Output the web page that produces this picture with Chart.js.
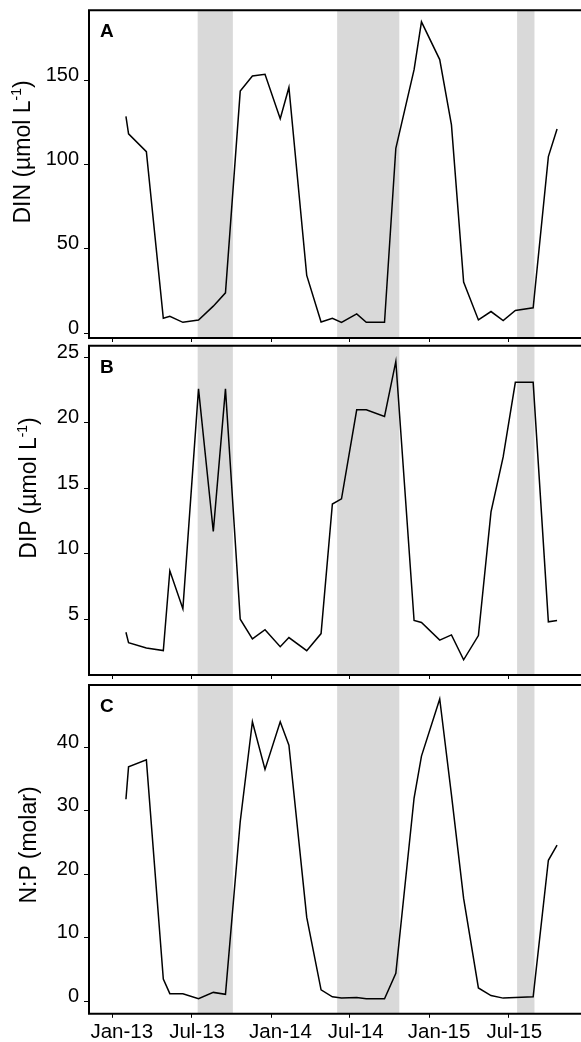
<!DOCTYPE html>
<html>
<head>
<meta charset="utf-8">
<script src="https://cdn.jsdelivr.net/npm/chart.js@4.4.1/dist/chart.umd.min.js"></script>
<style>
  html, body { margin: 0; padding: 0; background: #fff; overflow: hidden; }
  #fig { position: relative; width: 581px; height: 1042px; overflow: hidden; background: #fff; }
  #fig canvas { position: absolute; left: 0; }
  .ytitle {
    position: absolute;
    font-family: "Liberation Sans", Arial, sans-serif;
    font-size: 23px;
    line-height: 1;
    color: #000;
    white-space: nowrap;
    transform: translate(-50%, -50%) rotate(-90deg);
  }
  .ytitle sup { font-size: 0.6em; line-height: 0; vertical-align: 0.6em; }
</style>
</head>
<body>
<div id="fig">
  <canvas id="panelA" width="620" height="346" style="top:0px"></canvas>
  <canvas id="panelB" width="620" height="342" style="top:340px"></canvas>
  <canvas id="panelC" width="620" height="362" style="top:680px"></canvas>
  <div class="ytitle" style="left:22px; top:152px">DIN (µmol L<sup>-1</sup>)</div>
  <div class="ytitle" style="left:28px; top:488px">DIP (µmol L<sup>-1</sup>)</div>
  <div class="ytitle" style="left:28px; top:845px">N:P (molar)</div>
</div>
<script>
// Sampling dates and measured concentrations
const sampleDates = [
  "2013-02-01","2013-02-07","2013-03-20","2013-04-28","2013-05-13","2013-06-12",
  "2013-07-18","2013-08-21","2013-09-18","2013-10-22","2013-11-19","2013-12-18",
  "2014-01-22","2014-02-11","2014-03-24","2014-04-26","2014-05-22","2014-06-12",
  "2014-07-17","2014-08-08","2014-09-19","2014-10-15","2014-11-26","2014-12-13",
  "2015-01-24","2015-02-20","2015-03-20","2015-04-23","2015-05-22","2015-06-19",
  "2015-07-17","2015-08-27","2015-10-01","2015-10-21"
];
const dinValues = [
  128.6, 118.3, 107.7, 8.9, 10.1, 6.5,
  7.9, 16.1, 24.0, 143.6, 152.6, 153.6,
  127.2, 145.8, 34.3, 6.7, 8.9, 6.5,
  11.5, 6.5, 6.5, 109.7, 156.3, 184.7,
  162.3, 123.6, 30.4, 7.9, 12.9, 7.5,
  13.5, 15.1, 104.8, 121.2
];
const dipValues = [
  4.0, 3.2, 2.8, 2.6, 8.7, 5.8,
  22.6, 11.7, 22.6, 5.0, 3.5, 4.2,
  2.9, 3.6, 2.6, 3.9, 13.8, 14.2,
  21.0, 21.0, 20.5, 24.7, 4.9, 4.75,
  3.4, 3.8, 1.9, 3.75, 13.2, 17.4,
  23.1, 23.1, 4.8, 4.9
];
const npValues = [
  31.8, 36.9, 38.0, 3.5, 1.2, 1.2,
  0.4, 1.4, 1.1, 28.3, 44.0, 36.5,
  44.0, 40.3, 13.2, 1.8, 0.7, 0.5,
  0.6, 0.4, 0.4, 4.4, 32.0, 38.6,
  47.6, 32.5, 16.2, 2.1, 0.9, 0.5,
  0.6, 0.7, 22.2, 24.6
];

// Shaded periods (start, end)
const shadedPeriods = [
  ["2013-07-16", "2013-10-05"],
  ["2014-06-02", "2014-10-23"],
  ["2015-07-21", "2015-08-30"]
];

// Axis ticks
const monthTicks = ["2013-01-01","2013-07-01","2014-01-01","2014-07-01","2015-01-01","2015-07-01"];
const monthTickLabels = ["Jan-13","Jul-13","Jan-14","Jul-14","Jan-15","Jul-15"];
const dinTicks = [0, 50, 100, 150];
const dipTicks = [5, 10, 15, 20, 25];
const npTicks = [0, 10, 20, 30, 40];
const xRange = ["2012-11-08", "2016-02-06"];

const ORIGIN = Date.UTC(2013, 0, 1);
function dayNumber(s) {
  const [y, m, d] = s.split("-").map(Number);
  return (Date.UTC(y, m - 1, d) - ORIGIN) / 86400000;
}

Chart.defaults.font.family = '"Liberation Sans", Arial, sans-serif';
Chart.defaults.color = '#000';

const shadePlugin = {
  id: 'shade',
  beforeDatasetsDraw(chart) {
    const { ctx, chartArea, scales } = chart;
    ctx.save();
    ctx.fillStyle = '#d9d9d9';
    shadedPeriods.forEach(([a, b]) => {
      const x0 = scales.x.getPixelForValue(dayNumber(a));
      const x1 = scales.x.getPixelForValue(dayNumber(b));
      ctx.fillRect(x0, chartArea.top, x1 - x0, chartArea.bottom - chartArea.top);
    });
    ctx.restore();
  }
};

// Panel box (open on the right, where the figure is cropped) and panel letter
const framePlugin = {
  id: 'frame',
  afterDatasetsDraw(chart, args, opts) {
    const { ctx, chartArea } = chart;
    const { left, right, top, bottom } = chartArea;
    ctx.save();
    ctx.strokeStyle = '#000';
    ctx.lineWidth = 2;
    ctx.beginPath();
    ctx.moveTo(right + 2, top);
    ctx.lineTo(left, top);
    ctx.lineTo(left, bottom);
    ctx.lineTo(right + 2, bottom);
    ctx.stroke();
    ctx.fillStyle = '#000';
    ctx.font = 'bold 19px "Liberation Sans", Arial, sans-serif';
    ctx.textBaseline = 'alphabetic';
    ctx.textAlign = 'left';
    ctx.fillText(opts.letter, left + 11, top + 27);
    ctx.restore();
  }
};

function makePanel(id, letter, values, yTicks, yMin, yMax, padTop, xAxisHeight, showXLabels) {
  const points = sampleDates.map((d, i) => ({ x: dayNumber(d), y: values[i] }));
  return new Chart(document.getElementById(id), {
    type: 'line',
    data: {
      datasets: [{
        data: points,
        borderColor: '#000',
        borderWidth: 1.5,
        pointRadius: 0,
        tension: 0,
        fill: false
      }]
    },
    options: {
      responsive: false,
      animation: false,
      devicePixelRatio: 1,
      layout: { padding: { top: padTop, right: 16, bottom: 0, left: 0 } },
      plugins: {
        legend: { display: false },
        tooltip: { enabled: false },
        frame: { letter: letter }
      },
      scales: {
        x: {
          type: 'linear',
          min: dayNumber(xRange[0]),
          max: dayNumber(xRange[1]),
          border: { display: false },
          grid: { display: true, drawOnChartArea: false, drawTicks: true, tickLength: 4, color: '#000', lineWidth: 1 },
          afterBuildTicks: (scale) => { scale.ticks = monthTicks.map(d => ({ value: dayNumber(d) })); },
          afterFit: (scale) => { scale.height = xAxisHeight; scale.paddingLeft = 0; scale.paddingRight = 0; },
          ticks: {
            display: showXLabels,
            autoSkip: false,
            maxRotation: 0,
            minRotation: 0,
            align: 'start',
            labelOffset: -22,
            padding: 2.4,
            font: { size: 20.5 },
            color: '#000',
            callback: (v, i) => monthTickLabels[i]
          }
        },
        y: {
          type: 'linear',
          min: yMin,
          max: yMax,
          border: { display: false },
          grid: { display: true, drawOnChartArea: false, drawTicks: true, tickLength: 5, color: '#000', lineWidth: 1 },
          afterBuildTicks: (scale) => { scale.ticks = yTicks.map(v => ({ value: v })); },
          afterFit: (scale) => { scale.width = 89; scale.paddingTop = 0; scale.paddingBottom = 0; },
          ticks: {
            autoSkip: false,
            padding: 5,
            labelOffset: -5,
            font: { size: 20 },
            color: '#000',
            callback: (v) => String(v)
          }
        }
      }
    },
    plugins: [shadePlugin, framePlugin]
  });
}

makePanel('panelA', 'A', dinValues, dinTicks, -2.79, 191.6, 10.2, 8, false);
makePanel('panelB', 'B', dipValues, dipTicks, 0.736, 25.894, 5.8, 7, false);
makePanel('panelC', 'C', npValues, npTicks, -1.97, 49.79, 5, 28.2, true);
</script>
</body>
</html>
